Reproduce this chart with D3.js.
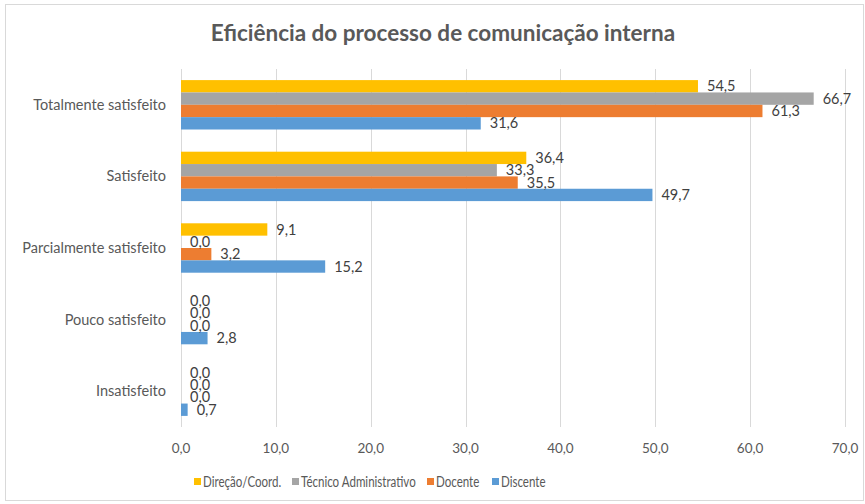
<!DOCTYPE html>
<html>
<head>
<meta charset="utf-8">
<script src="https://cdn.jsdelivr.net/npm/d3@7"></script>
<style>
  body { margin: 0; background: #fff; }
  svg { display: block; }
  text { font-family: Lato, "Open Sans", sans-serif; }
</style>
</head>
<body>
<svg id="chart"></svg>
<script>
const width = 865;
const height = 504;

// categories, top to bottom
const categories = ["Totalmente satisfeito", "Satisfeito", "Parcialmente satisfeito", "Pouco satisfeito", "Insatisfeito"];
const seriesNames = ["Direção/Coord.", "Técnico Administrativo", "Docente", "Discente"];
const direcao = [54.5, 36.4, 9.1, 0.0, 0.0];
const tecnico = [66.7, 33.3, 0.0, 0.0, 0.0];
const docente = [61.3, 35.5, 3.2, 0.0, 0.0];
const discente = [31.6, 49.7, 15.2, 2.8, 0.7];
const xTicks = [0, 10, 20, 30, 40, 50, 60, 70];
const colors = ["#FFC000", "#A5A5A5", "#ED7D31", "#5B9BD5"];

const seriesValues = [direcao, tecnico, docente, discente];
const fmt = v => d3.format(".1f")(v).replace(".", ",");

const margin = { top: 69, left: 181, right: 20, bottom: 77 };
const plotW = 845 - margin.left;
const plotH = height - margin.top - margin.bottom;

const svg = d3.select("#chart")
    .attr("width", width)
    .attr("height", height);

// outer chart border
svg.append("rect")
    .attr("x", 5.5).attr("y", 4.5)
    .attr("width", 858).attr("height", 496)
    .attr("fill", "#fff")
    .attr("stroke", "#D9D9D9");

svg.append("text")
    .attr("x", 443).attr("y", 41)
    .attr("text-anchor", "middle")
    .style("font-size", "22.5px")
    .style("font-weight", "bold")
    .attr("fill", "#595959")
    .text("Eficiência do processo de comunicação interna");

const x = d3.scaleLinear().domain([0, 70]).range([0, plotW]);
const y = d3.scaleBand().domain(categories).range([0, plotH]).paddingInner(0.31).paddingOuter(0.155);
const ySub = d3.scaleBand().domain(seriesNames).range([0, y.bandwidth()]);

const g = svg.append("g").attr("transform", `translate(${margin.left},${margin.top})`);

// vertical gridlines
g.selectAll("line.grid")
    .data(xTicks).enter()
    .append("line")
    .attr("class", "grid")
    .attr("x1", d => Math.round(x(d)) + 0.5)
    .attr("x2", d => Math.round(x(d)) + 0.5)
    .attr("y1", 0).attr("y2", plotH)
    .attr("stroke", "#D9D9D9");

// x tick labels
g.selectAll("text.xtick")
    .data(xTicks).enter()
    .append("text")
    .attr("class", "xtick")
    .attr("x", d => x(d))
    .attr("y", plotH + 26)
    .attr("text-anchor", "middle")
    .style("font-size", "13.5px")
    .attr("fill", "#595959")
    .text(d => fmt(d));

// category labels
g.selectAll("text.cat")
    .data(categories).enter()
    .append("text")
    .attr("class", "cat")
    .attr("x", -15)
    .attr("y", d => y(d) + y.bandwidth() / 2)
    .attr("dy", "0.35em")
    .attr("text-anchor", "end")
    .style("font-size", "14.5px")
    .attr("fill", "#595959")
    .text(d => d);

// bars
seriesNames.forEach((s, si) => {
    const rows = categories.map((c, ci) => ({ cat: c, value: seriesValues[si][ci] }));
    const sg = g.append("g");
    sg.selectAll("rect")
        .data(rows).enter()
        .append("rect")
        .attr("x", 0)
        .attr("y", d => y(d.cat) + ySub(s))
        .attr("width", d => x(d.value))
        .attr("height", ySub.bandwidth())
        .attr("fill", colors[si]);
});

// value labels drawn after bars so they sit on top
seriesNames.forEach((s, si) => {
    const rows = categories.map((c, ci) => ({ cat: c, value: seriesValues[si][ci] }));
    g.append("g").selectAll("text")
        .data(rows).enter()
        .append("text")
        .attr("x", d => x(d.value) + 9)
        .attr("y", d => y(d.cat) + ySub(s) + ySub.bandwidth() / 2)
        .attr("dy", "0.35em")
        .style("font-size", "14.5px")
        .attr("fill", "#404040")
        .text(d => fmt(d.value));
});

// legend (text squeezed, the original font is narrow and tall)
const legendItems = [
    { name: seriesNames[0], color: colors[0], x: 194 },
    { name: seriesNames[1], color: colors[1], x: 292 },
    { name: seriesNames[2], color: colors[2], x: 427 },
    { name: seriesNames[3], color: colors[3], x: 492 }
];
const lg = svg.append("g").selectAll("g")
    .data(legendItems).enter()
    .append("g")
    .attr("transform", d => `translate(${d.x},482)`);
lg.append("rect")
    .attr("x", 0).attr("y", -4)
    .attr("width", 7).attr("height", 7)
    .attr("fill", d => d.color);
lg.append("text")
    .attr("transform", "translate(9,0) scale(0.77,1)")
    .attr("dy", "0.35em")
    .style("font-size", "15px")
    .attr("fill", "#595959")
    .text(d => d.name);
</script>
</body>
</html>
